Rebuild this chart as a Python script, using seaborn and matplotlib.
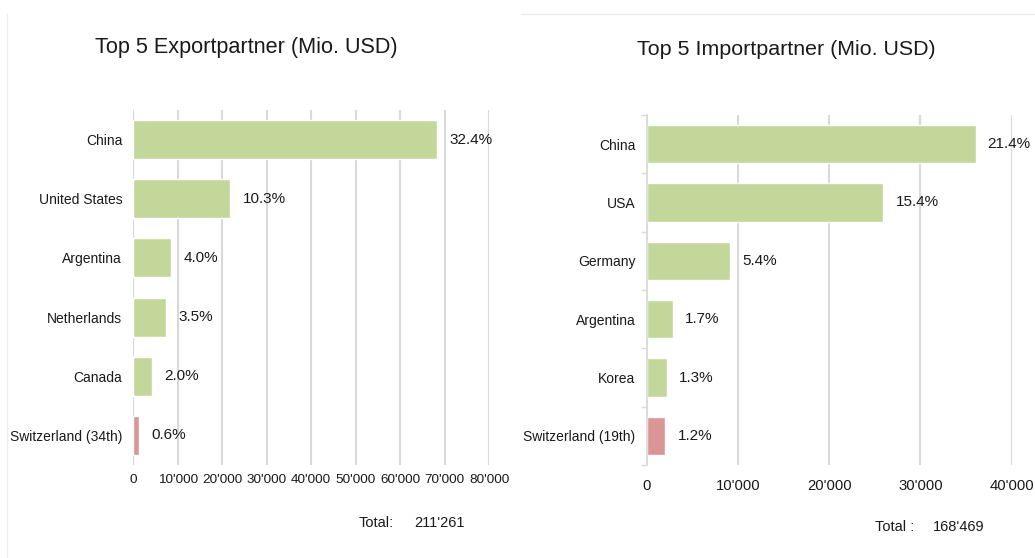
import matplotlib
matplotlib.use("Agg")
import matplotlib.pyplot as plt
from matplotlib.ticker import FuncFormatter, FixedLocator
from matplotlib.lines import Line2D
import seaborn as sns

# ---- data ----
export_partners = ["China", "United States", "Argentina", "Netherlands", "Canada", "Switzerland (34th)"]
export_values = [68400, 21800, 8450, 7400, 4250, 1300]
export_shares = ["32.4%", "10.3%", "4.0%", "3.5%", "2.0%", "0.6%"]
export_total = "211'261"

import_partners = ["China", "USA", "Germany", "Argentina", "Korea", "Switzerland (19th)"]
import_values = [36050, 25940, 9120, 2860, 2200, 2060]
import_shares = ["21.4%", "15.4%", "5.4%", "1.7%", "1.3%", "1.2%"]
import_total = "168'469"

export_ticks = [0, 10000, 20000, 30000, 40000, 50000, 60000, 70000, 80000]
import_ticks = [0, 10000, 20000, 30000, 40000]

GREEN = "#c4d79b"
PINK = "#da9694"
GRID = "#d9d9d9"

sns.set_theme(style="white")
plt.rcParams["font.family"] = ["Liberation Sans", "DejaVu Sans"]

fig = plt.figure(figsize=(10.35, 5.58), dpi=100)
fig.patch.set_facecolor("white")

W, H = 1035, 558


def fx(px):
    return px / W


def fy(py):
    return 1 - py / H


ax1 = fig.add_axes([fx(133.3), fy(465), fx(489) - fx(133.3), fy(110) - fy(465)])
ax2 = fig.add_axes([fx(646.7), fy(465), fx(1011.7) - fx(646.7), fy(115) - fy(465)])


def fmt(v, pos=None):
    return f"{v:,.0f}".replace(",", "'")


def draw(ax, cats, vals, shares, ticks, xmax, xtick_size, xpad, left_spine):
    colors = [GREEN] * (len(cats) - 1) + [PINK]
    sns.barplot(x=vals, y=cats, hue=cats, palette=colors, legend=False,
                orient="h", width=0.66, ax=ax, saturation=1)
    ax.set_xlim(0, xmax)
    ax.set_ylim(len(cats) - 0.5, -0.5)
    ax.set_xticks(ticks)
    ax.xaxis.set_major_formatter(FuncFormatter(fmt))
    ax.grid(axis="x", color=GRID, linewidth=1.5, zorder=0)
    ax.set_axisbelow(True)
    for s in ["top", "right", "bottom", "left"]:
        ax.spines[s].set_visible(False)
    if left_spine:
        ax.spines["left"].set_visible(True)
        ax.spines["left"].set_color(GRID)
        ax.spines["left"].set_linewidth(1.2)
        ax.yaxis.set_minor_locator(FixedLocator([i - 0.5 for i in range(len(cats) + 1)]))
        ax.tick_params(axis="y", which="minor", left=True, length=4, width=1.0, color=GRID)
    ax.tick_params(axis="y", which="major", left=False, length=0, pad=8, labelsize=10,
                   labelcolor="#1a1a1a")
    ax.tick_params(axis="x", bottom=False, length=0, pad=xpad, labelsize=xtick_size,
                   labelcolor="#1a1a1a")
    ax.set_xlabel("")
    ax.set_ylabel("")
    off = xmax * 0.035 if xmax > 50000 else xmax * 0.033
    for i, (v, s) in enumerate(zip(vals, shares)):
        ax.text(v + off, i, s, va="center", ha="left", fontsize=11, color="#1a1a1a", clip_on=False)


draw(ax1, export_partners, export_values, export_shares, export_ticks, 80000, 9.7, 6.5, False)
draw(ax2, import_partners, import_values, import_shares, import_ticks, 40000, 10.7, 10, True)

# titles
fig.text(fx(246), fy(53), "Top 5 Exportpartner (Mio. USD)", ha="center", va="baseline",
         fontsize=15.6, color="#1a1a1a")
fig.text(fx(786.5), fy(54.5), "Top 5 Importpartner (Mio. USD)", ha="center", va="baseline",
         fontsize=15.4, color="#1a1a1a")

# totals
fig.text(fx(359), fy(523), "Total:", ha="left", va="center", fontsize=10.5, color="#1a1a1a")
fig.text(fx(414), fy(523), export_total, ha="left", va="center", fontsize=10.5, color="#1a1a1a")
fig.text(fx(875), fy(527), "Total :", ha="left", va="center", fontsize=10.5, color="#1a1a1a")
fig.text(fx(933), fy(527), import_total, ha="left", va="center", fontsize=10.5, color="#1a1a1a")

# faint container borders
fig.add_artist(Line2D([fx(7), fx(7)], [fy(14), fy(558)], color="#ececec", linewidth=1.0))
fig.add_artist(Line2D([fx(521), fx(1035)], [fy(14), fy(14)], color="#ececec", linewidth=1.0))

fig.savefig("out.png", dpi=100, facecolor="white")
